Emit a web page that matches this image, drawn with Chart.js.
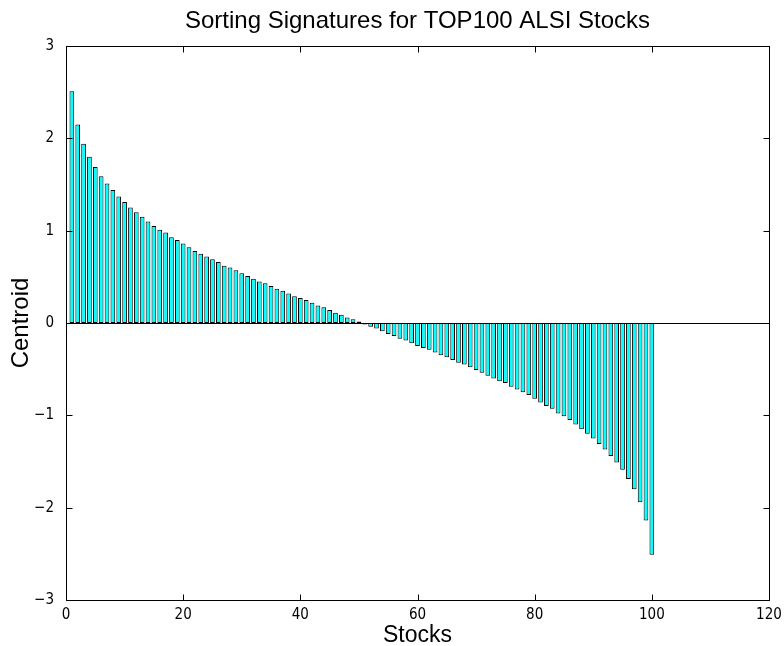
<!DOCTYPE html>
<html>
<head>
<meta charset="utf-8">
<script src="https://cdn.jsdelivr.net/npm/chart.js@4/dist/chart.umd.min.js"></script>
<style>
  html, body { margin: 0; padding: 0; background: #fff; }
  #wrap { width: 784px; height: 646px; }
</style>
</head>
<body>
<div id="wrap"><canvas id="sortChart" width="784" height="646"></canvas></div>
<script>
// ---- Daten ----
const chartTitle = 'Sorting Signatures for TOP100 ALSI Stocks';
const xLabel = 'Stocks';
const yLabel = 'Centroid';
const xTicks = [0, 20, 40, 60, 80, 100, 120];
const yTicks = [-3, -2, -1, 0, 1, 2, 3];

// centroid per stock (stock 1..100)
const centroid = [
    2.51, 2.15, 1.94, 1.80, 1.69, 1.59, 1.51, 1.44, 1.37, 1.31,
    1.25, 1.20, 1.15, 1.10, 1.05, 1.01, 0.98, 0.93, 0.90, 0.86,
    0.82, 0.78, 0.75, 0.72, 0.69, 0.66, 0.62, 0.60, 0.57, 0.54,
    0.51, 0.48, 0.45, 0.43, 0.40, 0.37, 0.35, 0.32, 0.29, 0.27,
    0.25, 0.22, 0.19, 0.17, 0.14, 0.11, 0.09, 0.06, 0.04, 0.015,
    -0.015, -0.04, -0.06, -0.09, -0.12, -0.14, -0.17, -0.19, -0.22, -0.25,
    -0.27, -0.29, -0.32, -0.35, -0.37, -0.40, -0.43, -0.45, -0.48, -0.51,
    -0.54, -0.57, -0.60, -0.63, -0.65, -0.69, -0.72, -0.75, -0.78, -0.82,
    -0.86, -0.90, -0.93, -0.98, -1.01, -1.05, -1.10, -1.15, -1.20, -1.25,
    -1.31, -1.37, -1.44, -1.51, -1.59, -1.69, -1.80, -1.94, -2.14, -2.51
];

const stockNr = centroid.map((v, i) => i + 1);
const barData = centroid.map((v, i) => ({ x: stockNr[i], y: v }));

const FONT = '"Liberation Sans", Arial, Helvetica, sans-serif';
const TICK_FONT = '"Liberation Sans Narrow", "Arial Narrow", "DejaVu Sans Condensed", sans-serif';

// ---- Rahmen, Ticks nach innen, Nulllinie ----
const matlabAxes = {
    id: 'matlabAxes',
    afterDatasetsDraw(chart) {
        const ctx = chart.ctx;
        const a = chart.chartArea;
        const xs = chart.scales.x, ys = chart.scales.y;
        const L = Math.round(a.left) + 0.5, R = Math.round(a.right) + 0.5;
        const T = Math.round(a.top) + 0.5, B = Math.round(a.bottom) + 0.5;
        const tl = 6;
        ctx.save();
        ctx.strokeStyle = '#000';
        ctx.lineWidth = 1;
        // zero baseline
        const y0 = Math.round(ys.getPixelForValue(0)) + 0.5;
        ctx.beginPath();
        ctx.moveTo(L, y0); ctx.lineTo(R, y0);
        ctx.stroke();
        // box
        ctx.strokeRect(L, T, R - L, B - T);
        // ticks
        ctx.beginPath();
        xTicks.forEach(v => {
            const px = Math.round(xs.getPixelForValue(v)) + 0.5;
            ctx.moveTo(px, B); ctx.lineTo(px, B - tl);
            ctx.moveTo(px, T); ctx.lineTo(px, T + tl);
        });
        yTicks.forEach(v => {
            const py = Math.round(ys.getPixelForValue(v)) + 0.5;
            ctx.moveTo(L, py); ctx.lineTo(L + tl, py);
            ctx.moveTo(R, py); ctx.lineTo(R - tl, py);
        });
        ctx.stroke();
        ctx.restore();
    }
};

const ctx = document.getElementById('sortChart').getContext('2d');
new Chart(ctx, {
    type: 'bar',
    data: {
        datasets: [{
            label: yLabel,
            data: barData,
            backgroundColor: '#00ffff',
            borderColor: '#000000',
            borderWidth: 1,
            borderSkipped: false,
            categoryPercentage: 1.0,
            barPercentage: 0.8
        }]
    },
    options: {
        responsive: false,
        animation: false,
        layout: { padding: { left: 0, right: 15, top: 0, bottom: 0 } },
        plugins: {
            legend: { display: false },
            tooltip: { enabled: false },
            title: {
                display: true,
                text: chartTitle,
                color: '#000',
                fullSize: false,
                font: { family: FONT, size: 24, weight: 'normal' },
                padding: { top: 7, bottom: 10.2 }
            }
        },
        scales: {
            x: {
                type: 'linear',
                min: 0, max: 120,
                offset: false,
                grid: { display: false },
                border: { display: false },
                afterFit: s => { s.height = 46; },
                afterBuildTicks: s => { s.ticks = xTicks.map(v => ({ value: v })); },
                ticks: {
                    color: '#000',
                    font: { family: TICK_FONT, size: 15 },
                    padding: -2,
                    maxRotation: 0,
                    autoSkip: false
                },
                title: {
                    display: true,
                    text: xLabel,
                    color: '#000',
                    font: { family: FONT, size: 23 },
                    padding: { top: 0, bottom: -3 }
                }
            },
            y: {
                min: -3, max: 3,
                grid: { display: false },
                border: { display: false },
                afterFit: s => { s.width = 66; },
                afterBuildTicks: s => { s.ticks = yTicks.map(v => ({ value: v })); },
                ticks: {
                    color: '#000',
                    font: { family: TICK_FONT, size: 15 },
                    padding: 4,
                    callback: v => String(v).replace('-', '\u2212')
                },
                title: {
                    display: true,
                    text: yLabel,
                    color: '#000',
                    font: { family: FONT, size: 24 },
                    padding: { top: 7, bottom: 0 }
                }
            }
        }
    },
    plugins: [matlabAxes]
});
</script>
</body>
</html>
